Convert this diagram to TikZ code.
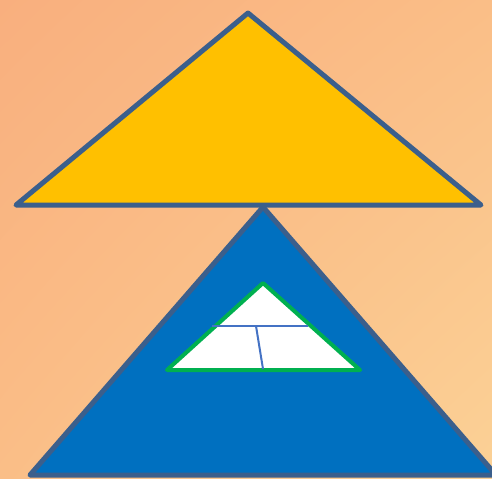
\documentclass[tikz,border=0pt]{standalone}
\usepackage{tikz}
\usetikzlibrary{shadings}
\definecolor{peach}{RGB}{249,175,126}
\definecolor{sand}{RGB}{251,209,150}
\definecolor{apricot}{RGB}{250,190,135}
\definecolor{slate}{RGB}{59,95,140}
\definecolor{gold}{RGB}{255,192,0}
\definecolor{royal}{RGB}{0,112,192}
\definecolor{leaf}{RGB}{0,176,80}
\definecolor{steel}{RGB}{68,114,196}

\begin{document}
\begin{tikzpicture}[
  x=0.02cm, y=-0.02cm,
  outer/.style={draw=slate, line width=0.1cm, line join=round},
  inner/.style={draw=leaf, fill=white, line width=0.08cm, line join=round},
  divider/.style={draw=steel, line width=0.04cm}
]

% Background
\useasboundingbox (0,0) rectangle (492,478);
\shade[upper left=peach, upper right=apricot, lower left=apricot,
  lower right=sand] (0,0) rectangle (492,478);
\clip (0,0) rectangle (492,478);

% Corner points
\coordinate (top_apex) at (248,13);
\coordinate (top_left) at (16,205);
\coordinate (top_right) at (481,205);
\coordinate (low_apex) at (263,207);
\coordinate (low_left) at (30,475);
\coordinate (low_right) at (496,475);
\coordinate (in_apex) at (263,283);
\coordinate (in_left) at (167,370);
\coordinate (in_right) at (360,370);

% Lower triangle
\draw[outer, fill=royal] (low_apex) -- (low_left) -- (low_right) -- cycle;

% Upper triangle
\draw[outer, fill=gold] (top_apex) -- (top_left) -- (top_right) -- cycle;

% Inner triangle with its divisions
\draw[inner] (in_apex) -- (in_left) -- (in_right) -- cycle;
\coordinate (cut_left) at (212,326);
\coordinate (cut_right) at (308,326);
\coordinate (cut_top) at (256,326);
\coordinate (cut_foot) at (263,369);
\draw[divider] (cut_left) -- (cut_right);
\draw[divider] (cut_top) -- (cut_foot);

\end{tikzpicture}
\end{document}
